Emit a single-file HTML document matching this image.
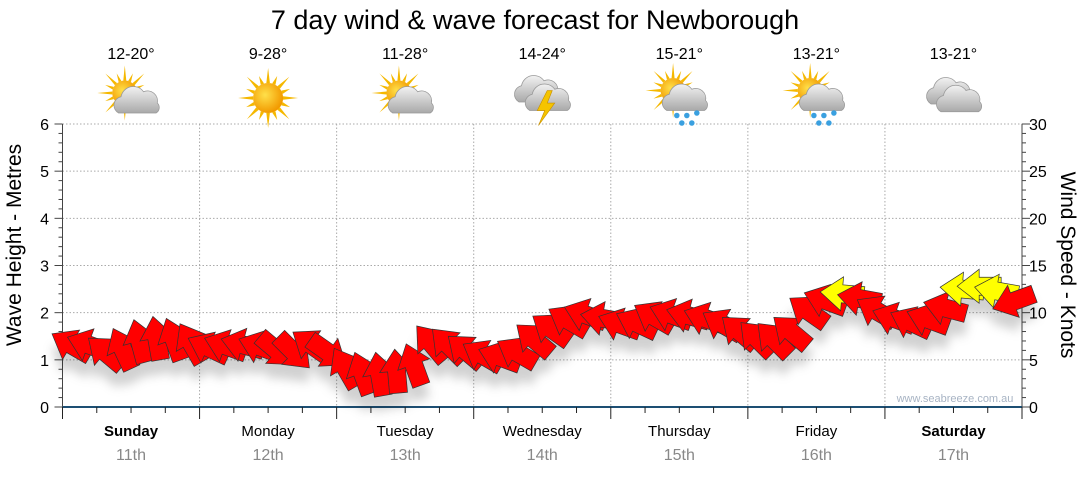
<!DOCTYPE html>
<html><head><meta charset="utf-8">
<style>
body{margin:0;background:#fff;}
svg text{font-family:"Liberation Sans",sans-serif;}
</style></head>
<body>
<svg id="chart" width="1080" height="475" viewBox="0 0 1080 475" xmlns="http://www.w3.org/2000/svg">
<defs>
<filter id="sh" x="-50%" y="-50%" width="200%" height="250%">
<feDropShadow dx="0" dy="14" stdDeviation="5" flood-color="#000" flood-opacity="0.18"/>
</filter>
<radialGradient id="sun" cx="0.4" cy="0.4" r="0.6"><stop offset="0" stop-color="#ffe04a"/><stop offset="1" stop-color="#f29a00"/></radialGradient>
<linearGradient id="cld" x1="0" y1="0" x2="0" y2="1"><stop offset="0" stop-color="#f2f2f2"/><stop offset="1" stop-color="#a9a9a9"/></linearGradient>
</defs>
<text x="535" y="29" font-size="27" text-anchor="middle" fill="#000">7 day wind &amp; wave forecast for Newborough</text>
<g id="grid"></g>
<g id="axes"></g>
<g id="icons"></g>
<g id="arrows" filter="url(#sh)"></g>
<text x="955" y="402" font-size="11" fill="#a8b4c4" text-anchor="middle">www.seabreeze.com.au</text>
<text transform="translate(21,245) rotate(-90)" font-size="21" text-anchor="middle">Wave Height - Metres</text>
<text transform="translate(1061,265) rotate(90)" font-size="21" text-anchor="middle">Wind Speed - Knots</text>
</svg>
<script>
const days=["Sunday","Monday","Tuesday","Wednesday","Thursday","Friday","Saturday"];
const dates=["11th","12th","13th","14th","15th","16th","17th"];
const boldDays=[true,false,false,false,false,false,true];
const temps=["12-20°","9-28°","11-28°","14-24°","15-21°","13-21°","13-21°"];
const icons=["suncloud","sun","suncloud","storm","sunrain","sunrain","cloud"];
const waveTicks=[0,1,2,3,4,5,6];
const windTicks=[0,5,10,15,20,25,30];
const windSpeed=[6.6,6.6,5.8,6.2,7.0,7.3,7.2,6.8,
6.3,6.5,6.6,6.4,6.0,5.8,6.6,5.8,
4.2,3.6,3.5,3.8,4.5,6.8,6.6,6.0,
5.5,5.3,5.8,7.2,8.3,9.2,9.8,9.4,
8.8,8.9,9.6,9.8,9.7,9.4,8.8,8.0,
7.3,7.2,8.0,10.2,11.3,12.0,11.5,10.2,
9.4,9.0,9.3,10.5,12.5,12.8,12.3,11.2];
const windDir=[-150,-160,-140,-115,-105,-100,-110,-120,
-155,-160,-165,-160,40,45,-145,35,
-120,-110,-100,-95,-110,-130,-135,-140,
-150,-160,-150,-140,-145,-150,-160,-170,
-160,-155,-150,-160,-165,-160,-150,-140,
-135,-135,-140,-145,-160,-175,-170,-150,
-160,-155,-160,-165,-175,180,-170,160];

const NS="http://www.w3.org/2000/svg";
const X0=62.5,X1=1022,Y0=407,Y1=124;
const nPts=windSpeed.length;
const xT=t=>X0+(X1-X0)*t/nPts;
const yW=m=>Y0-(Y0-Y1)*m/6;
const yK=k=>Y0-(Y0-Y1)*k/30;
function mk(tag,attrs,parent,text){const e=document.createElementNS(NS,tag);for(const k in attrs)e.setAttribute(k,attrs[k]);if(text!==undefined)e.textContent=text;parent.appendChild(e);return e;}
const grid=document.getElementById('grid'),axes=document.getElementById('axes'),ic=document.getElementById('icons'),ar=document.getElementById('arrows');
waveTicks.forEach(m=>{if(m>0){const l=mk('line',{x1:X0,x2:X1,y1:yW(m),y2:yW(m),stroke:'#aaa','stroke-dasharray':'1.5,2','stroke-width':1},grid);

}});
for(let d=1;d<days.length;d++){const x=xT(d*8);const l=mk('line',{x1:x,x2:x,y1:Y1,y2:Y0,stroke:'#aaa','stroke-dasharray':'1.5,2'},grid);

}
mk('line',{x1:X0,x2:X0,y1:Y1,y2:Y0,stroke:'#444'},axes);
mk('line',{x1:X1,x2:X1,y1:Y1,y2:Y0,stroke:'#444'},axes);
mk('line',{x1:X0,x2:X1,y1:Y0,y2:Y0,stroke:'#1d4f73','stroke-width':2},axes);
for(let i=0;i<=30;i++){const y=yW(i/5);mk('line',{x1:X0-(i%5?4:8),x2:X0,y1:y,y2:y,stroke:'#444'},axes);}
waveTicks.forEach(m=>{const t=mk('text',{x:49,y:yW(m)+6,'font-size':16,'text-anchor':'end'},axes,m);

});
for(let i=0;i<=30;i++){const y=yK(i);mk('line',{x1:X1,x2:X1+(i%5?4:8),y1:y,y2:y,stroke:'#444'},axes);}
windTicks.forEach(k=>{const t=mk('text',{x:1029,y:yK(k)+6,'font-size':16},axes,k);

});
for(let i=0;i<=28;i++){const x=xT(i*2);mk('line',{x1:x,x2:x,y1:Y0,y2:Y0+(i%4?6:12),stroke:'#222'},axes);}
days.forEach((d,i)=>{const cx=xT(i*8+4);
const t=mk('text',{x:cx,y:436,'font-size':15,'text-anchor':'middle','font-weight':boldDays[i]?'bold':'normal'},axes,d);


const t2=mk('text',{x:cx,y:460,'font-size':16,'text-anchor':'middle',fill:'#888'},axes,dates[i]);


const t3=mk('text',{x:cx,y:59,'font-size':16,'text-anchor':'middle'},ic,temps[i]);


const g=mk('g',{transform:`translate(${cx},98) scale(1.25)`},ic);


drawIcon(g,icons[i]);
});
function sun(g,x,y,r){for(let a=0;a<360;a+=22.5){const rad=a*Math.PI/180,L=(a%45?r+7:r+12);
mk('polygon',{points:`${x+Math.cos(rad+0.12)*r},${y+Math.sin(rad+0.12)*r} ${x+Math.cos(rad)*L},${y+Math.sin(rad)*L} ${x+Math.cos(rad-0.12)*r},${y+Math.sin(rad-0.12)*r}`,fill:'#f5b800'},g);}
mk('circle',{cx:x,cy:y,r:r,fill:'url(#sun)'},g);}
function cloud(g,x,y,s){mk('path',{d:`M${x-14*s},${y+8*s} a7,7 0 0 1 2,-13 a10,10 0 0 1 18,-4 a8,8 0 0 1 11,9 a5,5 0 0 1 -1,8 z`,fill:'url(#cld)',stroke:'#999','stroke-width':0.6},g);}
function drawIcon(g,type){
if(type==='sun'){sun(g,0,0,12);}
if(type==='suncloud'){sun(g,-5,-4,10);cloud(g,4,4,1);}
if(type==='sunrain'){sun(g,-5,-6,10);cloud(g,4,2,1);[[-2,14],[6,14],[14,12],[2,20],[10,20]].forEach(p=>mk('circle',{cx:p[0],cy:p[1],r:2.2,fill:'#3aa0e0'},g));}
if(type==='storm'){cloud(g,-6,-4,0.9);cloud(g,4,2,1);mk('polygon',{points:'4,-6 -4,10 2,10 -3,22 10,4 4,4 8,-6',fill:'#f5c400',stroke:'#c89000','stroke-width':0.5},g);}
if(type==='cloud'){cloud(g,-6,-2,0.85);cloud(g,4,3,1);}
}
windSpeed.forEach((k,i)=>{const x=xT(i+0.5),y=yK(k);
const col=k>=11.8?'#ffff00':'#ff0000';
const p=mk('path',{d:'M-22,-9 L0,-9 L0,-17 L22,0 L0,17 L0,9 L-22,9 Z',fill:col,stroke:'#333','stroke-width':0.7,
transform:`translate(${x},${y}) rotate(${windDir[i]})`},ar);


});
</script>
</body></html>
